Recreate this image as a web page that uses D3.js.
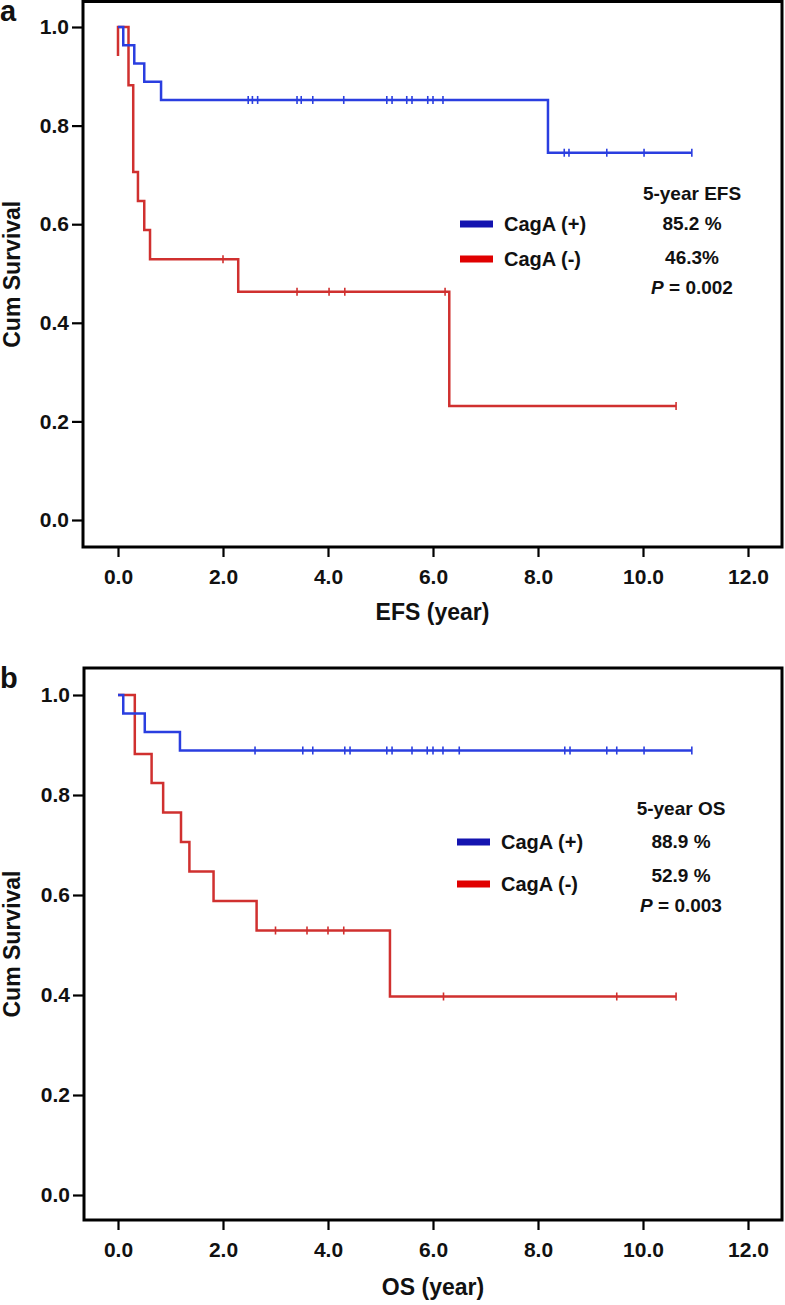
<!DOCTYPE html>
<html>
<head>
<meta charset="utf-8">
<script src="https://cdn.jsdelivr.net/npm/d3@7"></script>
<style>
  html, body { margin: 0; padding: 0; background: #fff; }
  svg text { font-family: "Liberation Sans", Arial, Helvetica, sans-serif; font-weight: bold; fill: #111; }
</style>
</head>
<body>
<svg id="chart" width="785" height="1305"></svg>
<script>
// ---------- data ----------
const xTickValues = [0, 2, 4, 6, 8, 10, 12];
const yTickValues = [0, 0.2, 0.4, 0.6, 0.8, 1.0];
const seriesNames = ["CagA (+)", "CagA (-)"];

// Panel a: EFS
const efsPosTimes = [0, 0.10, 0.31, 0.50, 0.82, 8.19, 10.93];
const efsPosSurv  = [1.0, 0.963, 0.926, 0.889, 0.852, 0.745, 0.745];
const efsPosCensor = [2.48, 2.56, 2.66, 3.41, 3.49, 3.71, 4.30, 5.12, 5.22, 5.50, 5.60, 5.90, 6.00, 6.19, 8.50, 8.59, 9.31, 10.02, 10.93];
const efsNegTimes = [0, 0, 0.20, 0.29, 0.38, 0.50, 0.61, 2.29, 6.31, 10.63];
const efsNegSurv  = [0.941, 1.0, 0.882, 0.706, 0.647, 0.588, 0.529, 0.463, 0.231, 0.231];
const efsNegCensor = [2.0, 3.41, 4.02, 4.32, 6.23, 10.63];
const efsStats = ["5-year EFS", "85.2 %", "46.3%", "0.002"];

// Panel b: OS
const osPosTimes = [0, 0.10, 0.51, 1.18, 10.93];
const osPosSurv  = [1.0, 0.963, 0.926, 0.889, 0.889];
const osPosCensor = [2.61, 3.52, 3.71, 4.32, 4.42, 5.12, 5.22, 5.60, 5.89, 6.00, 6.19, 6.50, 8.51, 8.61, 9.31, 9.50, 10.02, 10.93];
const osNegTimes = [0, 0.32, 0.64, 0.86, 1.20, 1.36, 1.82, 2.64, 5.18, 10.63];
const osNegSurv  = [1.0, 0.882, 0.824, 0.765, 0.706, 0.647, 0.588, 0.529, 0.397, 0.397];
const osNegCensor = [3.0, 3.6, 4.0, 4.3, 6.2, 9.5, 10.63];
const osStats = ["5-year OS", "88.9 %", "52.9 %", "0.003"];

// ---------- drawing ----------
const svg = d3.select("#chart");
const lineColors = ["#2a3ee0", "#d0302f"];
const legendColors = ["#1414b0", "#e00000"];

const panels = [
  { label: "a", xTitle: "EFS (year)", frame: {x0: 83, x1: 782, y0: 1.5, y1: 547}, yRange: [520, 27],
    pos: [efsPosTimes, efsPosSurv, efsPosCensor], neg: [efsNegTimes, efsNegSurv, efsNegCensor],
    stats: efsStats, labelY: 21, xTitleY: 612, legX: 460, legY: [224, 259], statX: 692, statY: [193, 223, 257, 287] },
  { label: "b", xTitle: "OS (year)", frame: {x0: 84, x1: 782, y0: 668, y1: 1220}, yRange: [1195, 695],
    pos: [osPosTimes, osPosSurv, osPosCensor], neg: [osNegTimes, osNegSurv, osNegCensor],
    stats: osStats, labelY: 688, xTitleY: 1287, legX: 457, legY: [842, 884], statX: 681, statY: [808, 841, 875, 905] }
];

const x = d3.scaleLinear().domain([0, 12]).range([118, 748]);

function stepValue(times, surv, t) {
  let v = surv[0];
  for (let i = 0; i < times.length; i++) if (times[i] <= t) v = surv[i];
  return v;
}

panels.forEach(p => {
  const g = svg.append("g");
  const y = d3.scaleLinear().domain([0, 1]).range(p.yRange);
  const f = p.frame;

  // frame
  g.append("rect").attr("x", f.x0).attr("y", f.y0)
    .attr("width", f.x1 - f.x0).attr("height", f.y1 - f.y0)
    .attr("fill", "none").attr("stroke", "#000").attr("stroke-width", 3);

  // y axis
  const ya = g.append("g").attr("transform", `translate(${f.x0 - 1},0)`)
    .call(d3.axisLeft(y).tickValues(yTickValues).tickFormat(d3.format(".1f")).tickSize(10).tickPadding(3));
  ya.select(".domain").remove();
  ya.selectAll(".tick line").attr("stroke", "#000").attr("stroke-width", 2.2);
  ya.selectAll(".tick text").style("font-size", "21px").style("font-weight", "bold").attr("fill", "#111");

  // x axis
  const xa = g.append("g").attr("transform", `translate(0,${f.y1 + 1})`)
    .call(d3.axisBottom(x).tickValues(xTickValues).tickFormat(d3.format(".1f")).tickSize(9).tickPadding(12));
  xa.select(".domain").remove();
  xa.selectAll(".tick line").attr("stroke", "#000").attr("stroke-width", 2.2);
  xa.selectAll(".tick text").style("font-size", "21px").style("font-weight", "bold").attr("fill", "#111");

  // axis titles
  g.append("text").attr("x", (f.x0 + f.x1) / 2).attr("y", p.xTitleY).attr("dy", "0.35em")
    .attr("text-anchor", "middle").style("font-size", "23px").text(p.xTitle);
  g.append("text").attr("transform", `translate(12,${(f.y0 + f.y1) / 2}) rotate(-90)`)
    .attr("dy", "0.35em").attr("text-anchor", "middle").style("font-size", "23px").text("Cum Survival");

  // panel label
  g.append("text").attr("x", 0).attr("y", p.labelY).style("font-size", "29px").text(p.label);

  // curves: negative first, positive on top
  const line = d3.line().curve(d3.curveStepAfter).x(d => x(d[0])).y(d => y(d[1]));
  [[p.neg, 1], [p.pos, 0]].forEach(([ser, ci]) => {
    const [times, surv, cens] = ser;
    const pts = times.map((t, i) => [t, surv[i]]);
    g.append("path").datum(pts).attr("d", line)
      .attr("fill", "none").attr("stroke", lineColors[ci]).attr("stroke-width", 2.5);
    g.selectAll(null).data(cens).enter().append("line")
      .attr("x1", d => x(d)).attr("x2", d => x(d))
      .attr("y1", d => y(stepValue(times, surv, d)) - 4)
      .attr("y2", d => y(stepValue(times, surv, d)) + 4)
      .attr("stroke", lineColors[ci]).attr("stroke-width", 1.6);
  });

  // legend
  seriesNames.forEach((name, i) => {
    g.append("rect").attr("x", p.legX).attr("y", p.legY[i] - 3.5).attr("width", 33).attr("height", 7)
      .attr("fill", legendColors[i]);
    g.append("text").attr("x", p.legX + 44).attr("y", p.legY[i]).attr("dy", "0.35em")
      .style("font-size", "20px").text(name);
  });

  // stats
  for (let i = 0; i < 3; i++) {
    g.append("text").attr("x", p.statX).attr("y", p.statY[i]).attr("dy", "0.35em")
      .attr("text-anchor", "middle").style("font-size", "19px").text(p.stats[i]);
  }
  const pt = g.append("text").attr("x", p.statX).attr("y", p.statY[3]).attr("dy", "0.35em")
    .attr("text-anchor", "middle").style("font-size", "19px");
  pt.append("tspan").style("font-style", "italic").text("P");
  pt.append("tspan").text(" = " + p.stats[3]);
});
</script>
</body>
</html>
